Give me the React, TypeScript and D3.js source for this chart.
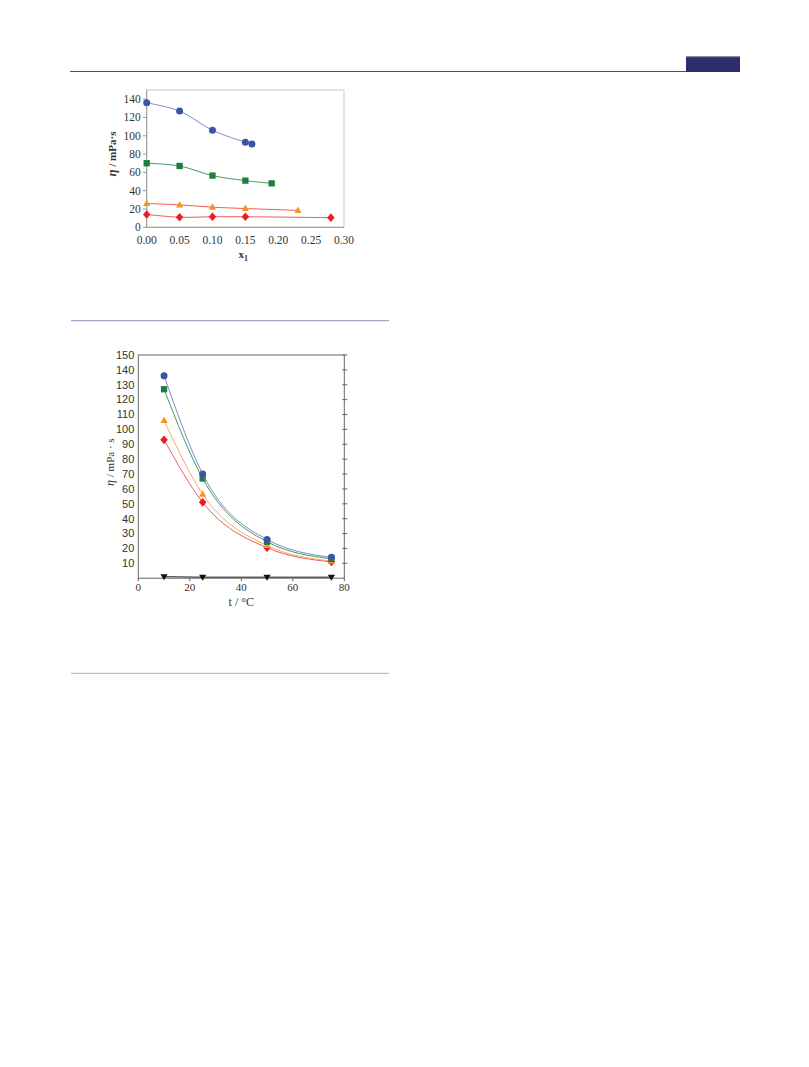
import React from "react";
import * as d3 from "d3";

// ---- Chart A: viscosity vs mole fraction x1 ----
const xTicksA = [0, 0.05, 0.1, 0.15, 0.2, 0.25, 0.3];
const yTicksA = [0, 20, 40, 60, 80, 100, 120, 140];
const blueA = [
  [0, 136], [0.05, 127], [0.1, 106], [0.15, 93], [0.16, 91],
];
const greenA = [
  [0, 70], [0.05, 67], [0.1, 56.5], [0.15, 51], [0.19, 48],
];
const orangeA = [
  [0, 26], [0.05, 24.5], [0.1, 22], [0.15, 20.5], [0.23, 18.5],
];
const redA = [
  [0, 14], [0.05, 11], [0.1, 11.5], [0.15, 11.5], [0.28, 10.5],
];

// ---- Chart B: viscosity vs temperature ----
const xTicksB = [0, 20, 40, 60, 80];
const yTicksB = [10, 20, 30, 40, 50, 60, 70, 80, 90, 100, 110, 120, 130, 140, 150];
const blueB = [[10, 136], [25, 70], [50, 26], [75, 14]];
const greenB = [[10, 127], [25, 67], [50, 24.5], [75, 13]];
const orangeB = [[10, 106], [25, 56.5], [50, 22], [75, 11.5]];
const redB = [[10, 93], [25, 51], [50, 20.5], [75, 11]];
const blackB = [[10, 1], [25, 0.7], [50, 0.7], [75, 0.7]];

const COL = {
  blue: "#3b55a5",
  green: "#1b7f3e",
  orange: "#f7941d",
  red: "#ec1c24",
  black: "#111111",
};
const LINE = {
  blue: "#7b8bd0",
  green: "#3f9b5e",
  orange: "#f9a966",
  red: "#f05a5a",
  black: "#222222",
};

const serif = "'Liberation Serif', 'Times New Roman', serif";
const sans = "'Liberation Sans', Arial, sans-serif";

type Pt = number[];

function Marker({ kind, x, y, color, s }: { kind: string; x: number; y: number; color: string; s: number }) {
  if (kind === "circle") return <circle cx={x} cy={y} r={s} fill={color} />;
  if (kind === "square")
    return <rect x={x - s * 0.9} y={y - s * 0.9} width={s * 1.8} height={s * 1.8} fill={color} />;
  if (kind === "tri")
    return (
      <path
        d={`M${x},${y - s * 1.1} L${x + s},${y + s * 0.7} L${x - s},${y + s * 0.7} Z`}
        fill={color}
      />
    );
  if (kind === "itri")
    return (
      <path
        d={`M${x},${y + s * 1.0} L${x + s},${y - s * 0.7} L${x - s},${y - s * 0.7} Z`}
        fill={color}
      />
    );
  // diamond
  return (
    <path
      d={`M${x},${y - s * 1.2} L${x + s * 1.05},${y} L${x},${y + s * 1.2} L${x - s * 1.05},${y} Z`}
      fill={color}
    />
  );
}

function Series({
  data, xs, ys, kind, color, line, s, curve,
}: {
  data: Pt[]; xs: d3.ScaleLinear<number, number>; ys: d3.ScaleLinear<number, number>;
  kind: string; color: string; line: string; s: number; curve: d3.CurveFactory;
}) {
  const gen = d3
    .line<Pt>()
    .x((d) => xs(d[0]))
    .y((d) => ys(d[1]))
    .curve(curve);
  return (
    <g>
      <path d={gen(data) || ""} fill="none" stroke={line} strokeWidth={1} />
      {data.map((d, i) => (
        <Marker key={i} kind={kind} x={xs(d[0])} y={ys(d[1])} color={color} s={s} />
      ))}
    </g>
  );
}

function ChartA() {
  const xs = d3.scaleLinear().domain([0, 0.3]).range([146.7, 344]);
  const ys = d3.scaleLinear().domain([0, 150]).range([227.3, 90]);
  const curve = d3.curveCatmullRom.alpha(0.5);
  const fmt = d3.format(".2f");
  return (
    <g>
      <rect
        x={xs(0)}
        y={ys(150)}
        width={xs(0.3) - xs(0)}
        height={ys(0) - ys(150)}
        fill="white"
        stroke="#c8c8c8"
        strokeWidth={1}
      />
      <line x1={xs(0)} x2={xs(0)} y1={ys(0)} y2={ys(150)} stroke="#9a9a9a" />
      <line x1={xs(0)} x2={xs(0.3)} y1={ys(0)} y2={ys(0)} stroke="#9a9a9a" />
      {yTicksA.map((t) => (
        <g key={t}>
          <line x1={xs(0) - 4} x2={xs(0)} y1={ys(t)} y2={ys(t)} stroke="#9a9a9a" />
          <text
            x={xs(0) - 6}
            y={ys(t)}
            dy="0.35em"
            textAnchor="end"
            fontFamily={serif}
            fontSize={11.5}
            fill="#333"
          >
            {t}
          </text>
        </g>
      ))}
      {xTicksA.map((t) => (
        <g key={t}>
          <line x1={xs(t)} x2={xs(t)} y1={ys(0)} y2={ys(0)} stroke="#9a9a9a" />
          <text
            x={xs(t)}
            y={ys(0) + 17}
            textAnchor="middle"
            fontFamily={serif}
            fontSize={11.5}
            fill="#333"
          >
            {fmt(t)}
          </text>
        </g>
      ))}
      <Series data={blueA} xs={xs} ys={ys} kind="circle" color={COL.blue} line={LINE.blue} s={3.5} curve={curve} />
      <Series data={greenA} xs={xs} ys={ys} kind="square" color={COL.green} line={LINE.green} s={3.5} curve={curve} />
      <Series data={orangeA} xs={xs} ys={ys} kind="tri" color={COL.orange} line={LINE.red} s={3.6} curve={curve} />
      <Series data={redA} xs={xs} ys={ys} kind="diamond" color={COL.red} line={LINE.red} s={3.6} curve={curve} />
      <text
        transform={`translate(116,${ys(80)}) rotate(-90)`}
        textAnchor="middle"
        fontFamily={serif}
        fontSize={11}
        fontWeight="bold"
        fill="#333"
      >
        <tspan fontStyle="italic" fontSize={13}>η</tspan>
        <tspan> / mPa·s</tspan>
      </text>
      <text
        x={xs(0.15) - 2}
        y={258}
        textAnchor="middle"
        fontFamily={serif}
        fontSize={11}
        fontWeight="bold"
        fill="#333"
      >
        x<tspan fontSize={8} dy={3}>1</tspan>
      </text>
    </g>
  );
}

function ChartB() {
  const xs = d3.scaleLinear().domain([0, 80]).range([138.3, 344.3]);
  const ys = d3.scaleLinear().domain([0, 150]).range([578.2, 355]);
  const curve = d3.curveMonotoneX;
  return (
    <g>
      <rect
        x={xs(0)}
        y={ys(150)}
        width={xs(80) - xs(0)}
        height={ys(0) - ys(150)}
        fill="white"
        stroke="#666"
        strokeWidth={1}
      />
      {yTicksB.map((t) => (
        <g key={t}>
          <line x1={xs(80) - 2} x2={xs(80) + 3} y1={ys(t)} y2={ys(t)} stroke="#666" />
          <text
            x={xs(0) - 4}
            y={ys(t)}
            dy="0.35em"
            textAnchor="end"
            fontFamily={sans}
            fontSize={11}
            fill="#333"
          >
            {t}
          </text>
        </g>
      ))}
      {xTicksB.map((t) => (
        <g key={t}>
          <line x1={xs(t)} x2={xs(t)} y1={ys(0)} y2={ys(0) + 3} stroke="#666" />
          <text
            x={xs(t)}
            y={ys(0) + 13}
            textAnchor="middle"
            fontFamily={serif}
            fontSize={11}
            fill="#333"
          >
            {t}
          </text>
        </g>
      ))}
      <Series data={blackB} xs={xs} ys={ys} kind="itri" color={COL.black} line={LINE.black} s={3.6} curve={d3.curveLinear} />
      <Series data={redB} xs={xs} ys={ys} kind="diamond" color={COL.red} line={LINE.red} s={3.6} curve={curve} />
      <Series data={orangeB} xs={xs} ys={ys} kind="tri" color={COL.orange} line={LINE.orange} s={3.6} curve={curve} />
      <Series data={greenB} xs={xs} ys={ys} kind="square" color={COL.green} line={LINE.green} s={3.5} curve={curve} />
      <Series data={blueB} xs={xs} ys={ys} kind="circle" color={COL.blue} line={LINE.blue} s={3.5} curve={curve} />
      <text
        transform={`translate(114,${ys(78)}) rotate(-90)`}
        textAnchor="middle"
        fontFamily={serif}
        fontSize={11}
        fill="#333"
      >
        <tspan fontStyle="italic" fontSize={12}>η</tspan>
        <tspan> / mPa · s</tspan>
      </text>
      <text
        x={xs(40)}
        y={606}
        textAnchor="middle"
        fontFamily={serif}
        fontSize={12}
        fill="#333"
      >
        t / °C
      </text>
    </g>
  );
}

export default function App() {
  return (
    <svg
      width={809}
      height={1067}
      style={{ position: "absolute", left: 0, top: 0, background: "white" }}
    >
      <rect x={0} y={0} width={809} height={1067} fill="white" />
      {/* page header rule and tab */}
      <line x1={70} x2={686} y1={71.5} y2={71.5} stroke="#4c4c82" strokeWidth={1} />
      <rect x={686} y={56} width={54} height={16} fill="#2b2d6e" />
      <rect x={686} y={56} width={54} height={1.2} fill="#8a8aa8" />
      {/* separators */}
      <line x1={71} x2={389} y1={320.7} y2={320.7} stroke="#a4a4cf" strokeWidth={1.2} />
      <line x1={71} x2={389} y1={673.3} y2={673.3} stroke="#bcbcdc" strokeWidth={1.2} />
      <ChartA />
      <ChartB />
    </svg>
  );
}
